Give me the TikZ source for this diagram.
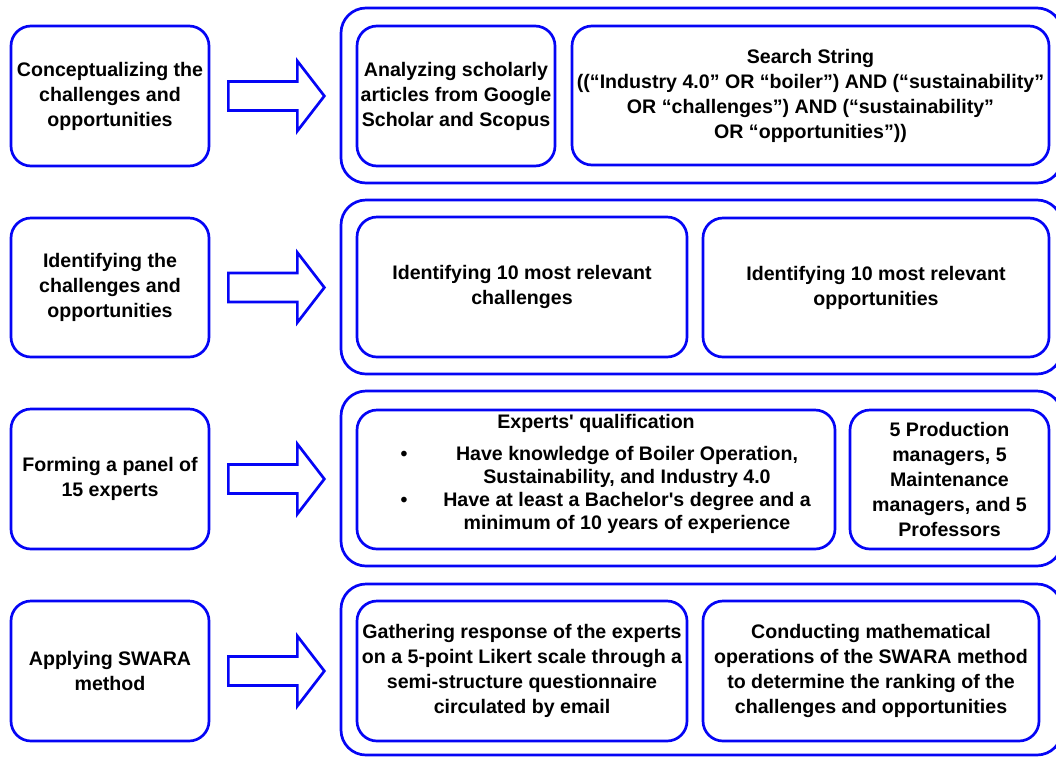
\documentclass[tikz,border=0pt]{standalone}
\usepackage{fontspec}
\newfontfamily\lf{Liberation Sans}
\usetikzlibrary{calc}
\definecolor{bl}{RGB}{5,5,245}
\tikzset{
  box/.style={draw=bl, line width=2.7pt, rounded corners=20pt, minimum width=#1, inner sep=0pt, align=center,
     font=\lf\bfseries\fontsize{19.6}{25}\selectfont},
  outer/.style={draw=bl, line width=2.7pt, rounded corners=25pt, minimum width=721pt, inner sep=0pt},
  blockarrow/.style={draw=bl, line width=2.7pt, line join=miter},
  txt/.style={inner sep=0pt, align=center, font=\lf\bfseries\fontsize{19.6}{23}\selectfont}
}
\begin{document}
\begin{tikzpicture}[x=1pt,y=-1pt]
\useasboundingbox (0,0) rectangle (1056,756);
\begin{scope}
\clip (0,0) rectangle (1056,756);
% left boxes
\node[box=198pt, minimum height=140pt] (L1) at (110,96) {Conceptualizing the\\challenges and\\opportunities};
\node[box=198pt, minimum height=139pt] (L2) at (110,287.5) {Identifying the\\challenges and\\opportunities};
\node[box=198pt, minimum height=140pt] (L3) at (110,479) {Forming a panel of\\15 experts};
\node[box=198pt, minimum height=140pt] (L4) at (110,671) {Applying SWARA\\method};
% outer boxes
\node[outer, minimum height=175pt] (O1) at (701.5,95.5) {};
\node[outer, minimum height=174pt] (O2) at (701.5,287) {};
\node[outer, minimum height=175pt] (O3) at (701.5,478.5) {};
\node[outer, minimum height=171pt] (O4) at (701.5,669.5) {};
% block arrows
\foreach \i in {1,2,3,4}{
  \draw[blockarrow] ($(L\i.east)+(18,-14.5)$) -- ++(69,0) -- ++(0,-20.5) -- ($(L\i.east)+(114,0)$)
     -- ($(L\i.east)+(87,35)$) -- ++(0,-20.5) -- ($(L\i.east)+(18,14.5)$) -- cycle;
}
% row 1
\node[box=198pt, minimum height=140pt] (A) at (456,96) {Analyzing scholarly\\articles from Google\\Scholar and Scopus};
\node[box=477pt, minimum height=139pt] (S) at (810.5,95.5) {Search String\\((“Industry 4.0” OR “boiler”) AND (“sustainability”\\OR “challenges”) AND (“sustainability”\\OR “opportunities”))};
% row 2
\node[box=330pt, minimum height=140pt] (C) at (522,287) {Identifying 10 most relevant\\challenges};
\node[box=346pt, minimum height=139pt] (Op) at (876,287.5) {Identifying 10 most relevant\\opportunities};
% row 3
\node[box=478pt, minimum height=139pt] (E) at (596,479.5) {};
\node[txt] (Et) at (596,423) {Experts' qualification};
\node[txt] (El) at (627,490) {Have knowledge of Boiler Operation,\\Sustainability, and Industry 4.0\\Have at least a Bachelor's degree and a\\minimum of 10 years of experience};
\node[txt] (b1) at (404,456) {•};
\node[txt] (b2) at (404,502) {•};
\node[box=199pt, minimum height=139pt] (P) at (949.5,479.5) {5 Production\\managers, 5\\Maintenance\\managers, and 5\\Professors};
% row 4
\node[box=330pt, minimum height=140pt] (G) at (522,671) {Gathering response of the experts\\on a 5-point Likert scale through a\\semi-structure questionnaire\\circulated by email};
\node[box=336pt, minimum height=140pt] (M) at (871,671) {Conducting mathematical\\operations of the SWARA method\\to determine the ranking of the\\challenges and opportunities};
\end{scope}
\end{tikzpicture}
\end{document}
